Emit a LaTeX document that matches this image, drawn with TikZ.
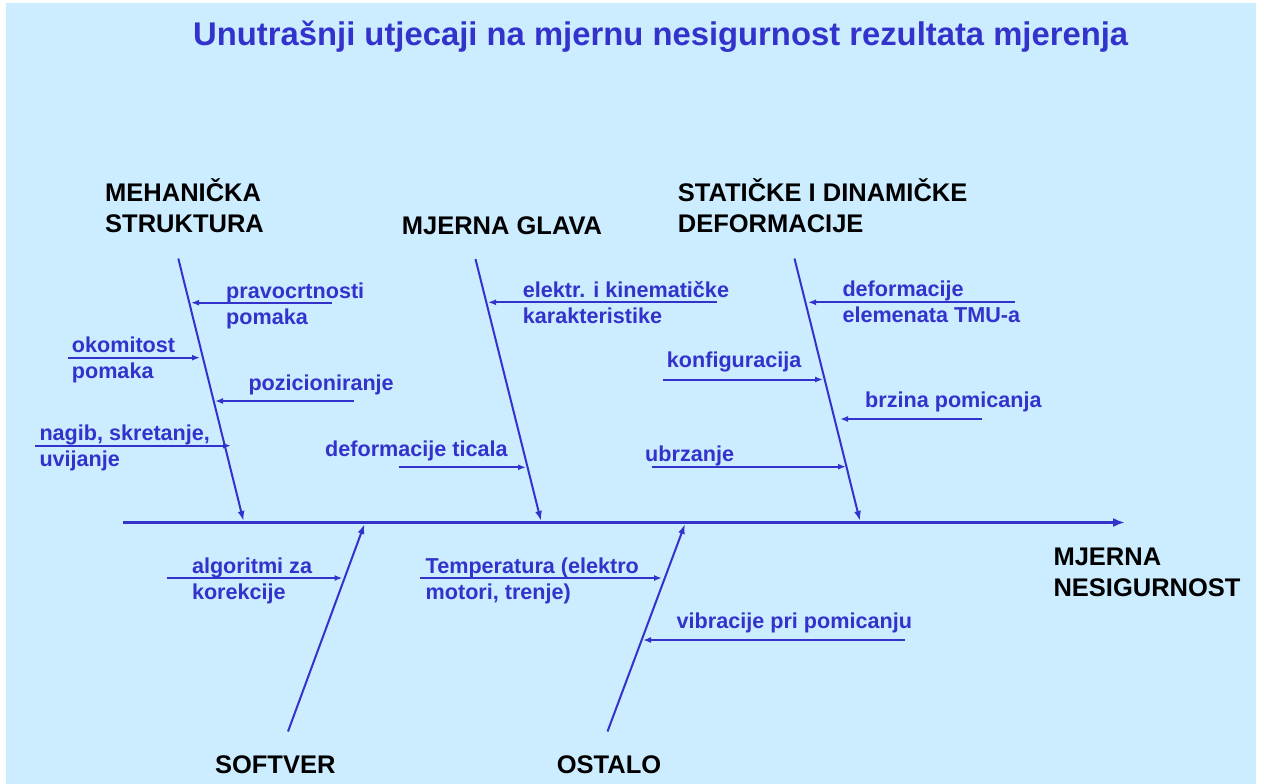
\documentclass[tikz,border=0pt]{standalone}
\usepackage{fontspec}
\setmainfont{Liberation Sans}
\usetikzlibrary{arrows.meta}
\definecolor{bg}{RGB}{204,236,255}
\definecolor{fb}{RGB}{51,51,204}
\newcommand{\lblfont}{\fontsize{21.6}{25.7}\selectfont\bfseries}
\newcommand{\hdfont}{\fontsize{25.5}{31}\selectfont\bfseries}
\newcommand{\ttlfont}{\fontsize{32.8}{36}\selectfont\bfseries}
\newcommand{\twol}[2]{\begin{tabular}[t]{@{}l@{}}#1\\#2\end{tabular}}
\begin{document}
\begin{tikzpicture}[x=1pt,y=-1pt,
  lbl/.style={anchor=base west, inner sep=0pt, text=fb, font=\lblfont},
  hd/.style={anchor=base west, inner sep=0pt, text=black, font=\hdfont},
  bonestyle/.style={draw=fb, line width=2pt, -{Latex[length=10pt,width=7pt]}},
  substyle/.style={draw=fb, line width=2pt, -{Latex[length=8pt,width=6pt]}},
  spinestyle/.style={draw=fb, line width=2.3pt, -{Latex[length=12pt,width=9pt]}}]
\useasboundingbox (0,0) rectangle (1264,784);
\fill[white] (0,0) rectangle (1264,784);
\fill[bg] (6,3) rectangle (1256,784);

% title
\node[anchor=base west, inner sep=0pt, text=fb, font=\ttlfont] (title) at (193,46)
  {Unutrašnji utjecaji na mjernu nesigurnost rezultata mjerenja};

% headings
\node[hd] (hmeh) at (105,201.7) {\twol{MEHANIČKA}{STRUKTURA}};
\node[hd] (hglava) at (401.7,234.3) {MJERNA GLAVA};
\node[hd] (hdef) at (677.7,201.7) {\twol{STATIČKE I DINAMIČKE}{DEFORMACIJE}};
\node[hd] (hres) at (1053.3,565) {\twol{MJERNA}{NESIGURNOST}};
\node[hd] (hsoft) at (214.8,773.3) {SOFTVER};
\node[hd] (host) at (556.6,773.3) {OSTALO};

% spine
\coordinate (s0) at (123,522.5);
\coordinate (s1) at (1125,522.5);
\draw[spinestyle] (s0) -- (s1);

% bones
\coordinate (b1t) at (178.3,258.5); \coordinate (b1b) at (243.5,521);
\coordinate (b2t) at (475.5,259);   \coordinate (b2b) at (541,521);
\coordinate (b3t) at (794.5,258.5); \coordinate (b3b) at (860,521);
\coordinate (b4b) at (288,731.5);   \coordinate (b4t) at (364.5,524);
\coordinate (b5b) at (607.5,731.5); \coordinate (b5t) at (685,524);
\draw[bonestyle] (b1t) -- (b1b);
\draw[bonestyle] (b2t) -- (b2b);
\draw[bonestyle] (b3t) -- (b3b);
\draw[bonestyle] (b4b) -- (b4t);
\draw[bonestyle] (b5b) -- (b5t);

% labels
\node[lbl] (l1) at (226,298.3) {\twol{pravocrtnosti}{pomaka}};
\node[lbl] (l2) at (71.7,352.7) {\twol{okomitost}{pomaka}};
\node[lbl] (l3) at (248.3,390) {pozicioniranje};
\node[lbl] (l4) at (39.3,440.7) {\twol{nagib, skretanje,}{uvijanje}};
\node[lbl] (l5) at (522.7,297.7) {\twol{elektr. i kinematičke}{karakteristike}};
\node[lbl] (l6) at (325,456) {deformacije ticala};
\node[lbl] (l7) at (842.3,296.7) {\twol{deformacije}{elemenata TMU-a}};
\node[lbl] (l8) at (666.7,367.3) {konfiguracija};
\node[lbl] (l9) at (865,407.3) {brzina pomicanja};
\node[lbl] (l10) at (645,461.7) {ubrzanje};
\node[lbl] (l11) at (191.8,573.3) {\twol{algoritmi za}{korekcije}};
\node[lbl] (l12) at (425.5,573.3) {\twol{Temperatura (elektro}{motori, trenje)}};
\node[lbl] (l13) at (676.5,628.3) {vibracije pri pomicanju};

% sub arrows: tails and tips
\coordinate (a1s) at (331.7,302.7); \coordinate (a1e) at (191,302.7);
\coordinate (a2s) at (68.3,357.7);  \coordinate (a2e) at (200,357.7);
\coordinate (a3s) at (354,401);     \coordinate (a3e) at (215,401);
\coordinate (a4s) at (35,445.7);    \coordinate (a4e) at (231,445.7);
\coordinate (a5s) at (717.3,302.3); \coordinate (a5e) at (488,302.3);
\coordinate (a6s) at (398.7,467.3); \coordinate (a6e) at (526,467.3);
\coordinate (a7s) at (1015,302.3);  \coordinate (a7e) at (808,302.3);
\coordinate (a8s) at (662.7,379.5); \coordinate (a8e) at (823,379.5);
\coordinate (a9s) at (981.7,419);   \coordinate (a9e) at (840,419);
\coordinate (a10s) at (651.7,466.7);\coordinate (a10e) at (846,466.7);
\coordinate (a11s) at (166.8,578);  \coordinate (a11e) at (342.5,578);
\coordinate (a12s) at (420.4,578);  \coordinate (a12e) at (662,578);
\coordinate (a13s) at (905,640);    \coordinate (a13e) at (643,640);
\foreach \i in {1,...,13} \draw[substyle] (a\i s) -- (a\i e);
\end{tikzpicture}
\end{document}
